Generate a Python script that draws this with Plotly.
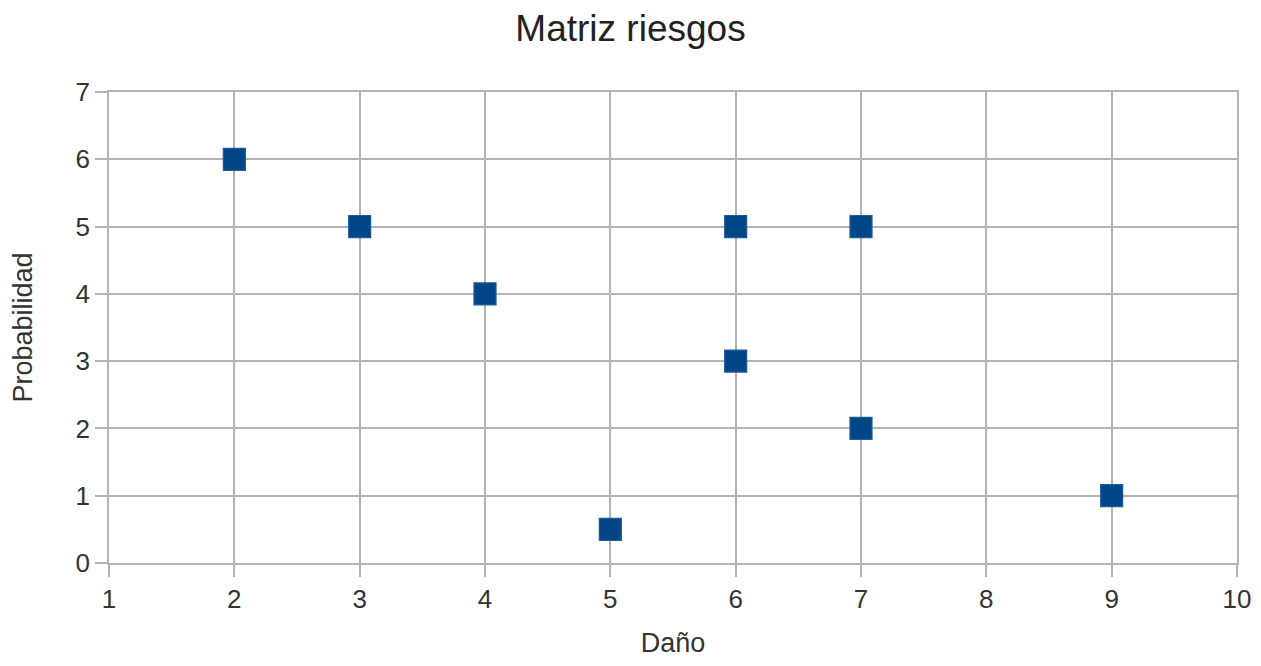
import plotly.graph_objects as go

dano = [2, 3, 4, 5, 6, 6, 7, 7, 9]
probabilidad = [6, 5, 4, 0.5, 5, 3, 5, 2, 1]

title_text = "Matriz riesgos"
x_title = "Daño"
y_title = "Probabilidad"

fig = go.Figure()
fig.add_trace(go.Scatter(
    x=dano, y=probabilidad, mode="markers",
    marker=dict(symbol="square", size=22, color="#004586",
                line=dict(color="#1f5c99", width=1.2)),
    showlegend=False, cliponaxis=False,
))

grid = "#b3b3b3"
font_family = "Liberation Sans, Arial, sans-serif"
axis_common = dict(
    showgrid=True, gridcolor=grid, gridwidth=1.8,
    zeroline=False, showline=True, linecolor=grid, linewidth=1.8, mirror=True,
    ticks="outside", ticklen=12, tickcolor=grid, tickwidth=1.8,
    tickfont=dict(size=26, color="#333333"), automargin=False,
    ticklabeloverflow="allow",
)
# page body has an 8px default margin, so the figure is sized/offset to fit the window
fig.update_layout(
    width=1245, height=650,
    paper_bgcolor="white", plot_bgcolor="white",
    font=dict(family=font_family, color="#333333", size=26),
    title=dict(text=title_text, x=0.5, xanchor="center", y=0.969, yanchor="middle",
               font=dict(size=37, color="#222222")),
    margin=dict(l=101, r=16, t=84, b=95),
    xaxis=dict(range=[1, 10], dtick=1, tick0=1,
               title=dict(text=x_title, font=dict(size=27), standoff=36),
               **axis_common),
    yaxis=dict(range=[0, 7], dtick=1, tick0=0,
               title=dict(text=y_title, font=dict(size=27), standoff=37),
               **axis_common),
)

fig.write_html("out.html")
